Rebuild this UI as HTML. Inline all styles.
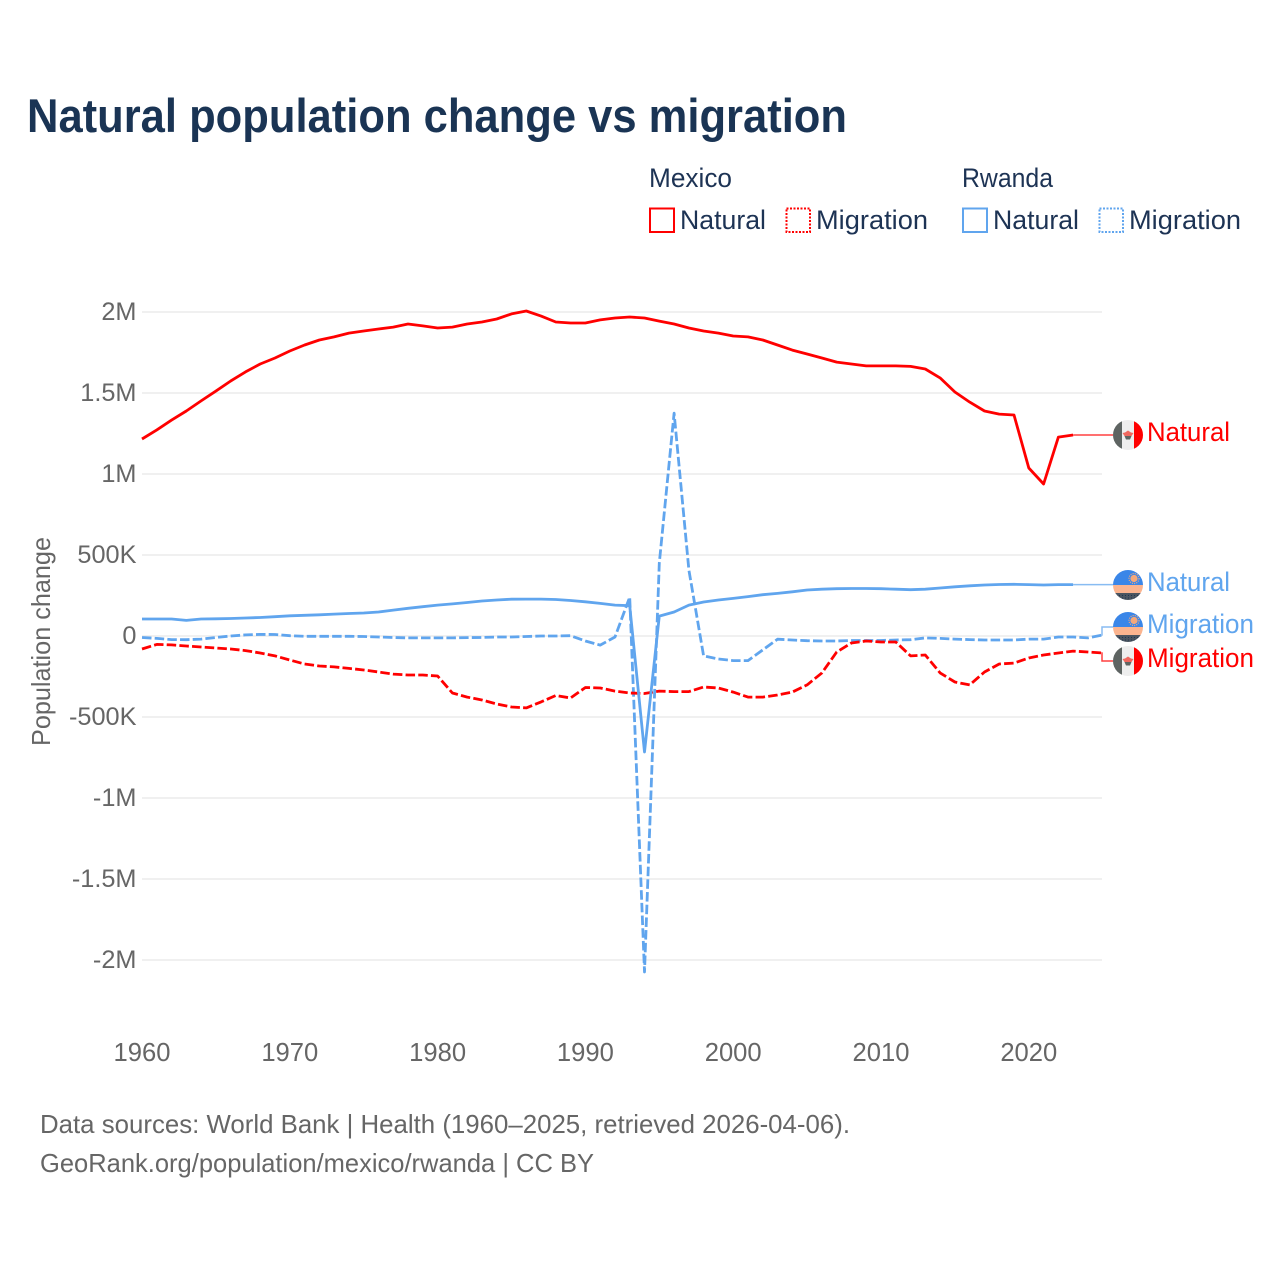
<!DOCTYPE html>
<html lang="en">
<head>
<meta charset="utf-8">
<title>Natural population change vs migration</title>
<style>
html,body{margin:0;padding:0;background:#fff}
svg{display:block}
text{font-family:"Liberation Sans",sans-serif}
</style>
</head>
<body>
<svg id="chart" xmlns="http://www.w3.org/2000/svg" width="1280" height="1280" viewBox="0 0 1280 1280">
  <defs>
    <clipPath id="flag-clip"><circle cx="0" cy="0" r="15"/></clipPath>
    <g id="flag-mexico" clip-path="url(#flag-clip)">
      <rect x="-15" y="-15" width="30" height="30" fill="#eeeeee"/>
      <rect x="-15" y="-15" width="9" height="30" fill="#5e6462"/>
      <rect x="6" y="-15" width="9" height="30" fill="#ff0000"/>
      <path d="M-5.5 -2 L-3 -2.5 L0 -4.500 L3 -2.500 L5.500 -2 L3.500 1 L-3.500 1 Z" fill="#f0685f"/>
      <path d="M-3.500 1 H3.500 L2 4.500 H-2 Z" fill="#5e6462"/>
    </g>
    <g id="flag-rwanda" clip-path="url(#flag-clip)">
      <rect x="-15" y="-15" width="30" height="15" fill="#3a86e8"/>
      <rect x="-15" y="0" width="30" height="8" fill="#fbb48f"/>
      <rect x="-15" y="8" width="30" height="7" fill="#4b5560"/>
      <line x1="-15" x2="15" y1="10.5" y2="10.5" stroke="#1f3550" stroke-width="1" stroke-dasharray="1 2"/>
      <line x1="-15" x2="15" y1="13" y2="13" stroke="#1f3550" stroke-width="1" stroke-dasharray="1 2"/>
      <circle cx="6" cy="-6.5" r="3.6" fill="#f5a87a"/>
      <circle cx="6" cy="-6.5" r="5" fill="none" stroke="#f5a87a" stroke-width="1.2" stroke-dasharray="1 1.2"/>
    </g>
  </defs>

  <rect width="1280" height="1280" fill="#ffffff"/>

  <text x="27" y="132" font-size="47" font-weight="700" fill="#1a3454" textLength="820" lengthAdjust="spacingAndGlyphs">Natural population change vs migration</text>

  <g font-size="26.5" fill="#1d3354">
    <text x="649" y="187" textLength="83" lengthAdjust="spacingAndGlyphs">Mexico</text>
    <text x="962" y="187" textLength="91" lengthAdjust="spacingAndGlyphs">Rwanda</text>

    <rect x="650" y="208.500" width="24" height="23.500" fill="none" stroke="#ff0000" stroke-width="2"/>
    <text x="680" y="229" textLength="86" lengthAdjust="spacingAndGlyphs">Natural</text>
    <rect x="786.500" y="208.500" width="23.500" height="23.500" fill="none" stroke="#ff0000" stroke-width="2" stroke-dasharray="2 1.500"/>
    <text x="816" y="229" textLength="112" lengthAdjust="spacingAndGlyphs">Migration</text>

    <rect x="963" y="208.500" width="24" height="23.500" fill="none" stroke="#60a5ee" stroke-width="2"/>
    <text x="993" y="229" textLength="86" lengthAdjust="spacingAndGlyphs">Natural</text>
    <rect x="1099.500" y="208.500" width="23.500" height="23.500" fill="none" stroke="#60a5ee" stroke-width="2" stroke-dasharray="2 1.500"/>
    <text x="1129" y="229" textLength="112" lengthAdjust="spacingAndGlyphs">Migration</text>
  </g>

  <g id="grid"></g>
  <g id="y-ticks"></g>
  <g id="x-ticks"></g>
  <text transform="translate(50,641.500) rotate(-90)" text-anchor="middle" font-size="25.600" fill="#666666" textLength="209" lengthAdjust="spacingAndGlyphs">Population change</text>

  <g id="leaders"></g>
  <g id="series"></g>

  <g font-size="26.500">
    <use href="#flag-mexico" transform="translate(1128,435)"/>
    <text x="1147" y="441" fill="#ff0000" textLength="83" lengthAdjust="spacingAndGlyphs">Natural</text>
    <use href="#flag-rwanda" transform="translate(1128,585)"/>
    <text x="1147" y="591" fill="#60a5ee" textLength="83" lengthAdjust="spacingAndGlyphs">Natural</text>
    <use href="#flag-rwanda" transform="translate(1128,627)"/>
    <text x="1147" y="633" fill="#60a5ee" textLength="107" lengthAdjust="spacingAndGlyphs">Migration</text>
    <use href="#flag-mexico" transform="translate(1128,661)"/>
    <text x="1147" y="667" fill="#ff0000" textLength="107" lengthAdjust="spacingAndGlyphs">Migration</text>
  </g>

  <g font-size="25.600" fill="#666666">
    <text x="40" y="1133" textLength="810" lengthAdjust="spacingAndGlyphs">Data sources: World Bank | Health (1960–2025, retrieved 2026-04-06).</text>
    <text x="40" y="1172" textLength="554" lengthAdjust="spacingAndGlyphs">GeoRank.org/population/mexico/rwanda | CC BY</text>
  </g>
</svg>

<script>
// Chart data (values in thousands of people per year)
const startYear = 1960;
const yTickValues = [2000, 1500, 1000, 500, 0, -500, -1000, -1500, -2000];
const yTickLabels = ["2M", "1.5M", "1M", "500K", "0", "-500K", "-1M", "-1.5M", "-2M"];
const xTickYears = [1960, 1970, 1980, 1990, 2000, 2010, 2020];
const mexicoNatural = [
  1216,1272,1333,1389,1451,1512,1574,1630,1679,1716,
  1759,1796,1827,1846,1870,1883,1895,1907,1926,1914,
  1901,1907,1926,1938,1957,1988,2006,1975,1938,1932,
  1932,1951,1963,1969,1963,1944,1926,1901,1883,1870,
  1852,1846,1827,1796,1765,1741,1716,1691,1679,1667,
  1667,1667,1664,1648,1593,1506,1444,1389,1370,1364,
  1037,938,1228,1241
];
const mexicoMigration = [
  -80,-52,-55,-62,-68,-74,-80,-90,-105,-123,
  -148,-173,-185,-191,-200,-210,-222,-235,-241,-241,
  -247,-352,-377,-395,-420,-438,-444,-407,-367,-383,
  -318,-321,-340,-352,-355,-340,-343,-343,-315,-321,
  -346,-377,-377,-364,-346,-302,-228,-99,-43,-31,
  -37,-37,-123,-117,-228,-284,-302,-222,-173,-167,
  -136,-117,-105,-93,-99,-105
];
const rwandaNatural = [
  105,105,105,96,105,106,108,111,114,119,
  125,128,131,135,139,142,148,160,171,181,
  191,198,207,216,222,227,228,228,225,219,
  211,201,191,187,-716,123,148,191,210,222,
  232,243,255,263,273,284,289,292,293,293,
  292,289,286,289,296,304,310,315,318,319,
  317,315,317,317
];
const rwandaMigration = [
  -9,-15,-22,-23,-19,-9,0,7,10,9,
  2,-2,-2,-2,-2,-3,-6,-9,-12,-12,
  -12,-12,-10,-9,-6,-6,-3,0,0,2,
  -31,-56,-6,240,-2074,450,1376,407,-123,-142,
  -152,-152,-86,-20,-25,-29,-31,-31,-28,-28,
  -28,-25,-23,-12,-15,-19,-22,-25,-25,-25,
  -19,-19,-6,-6,-12,6
];

const SVG_NS = "http://www.w3.org/2000/svg";
const RED = "#ff0000";
const BLUE = "#60a5ee";
const PLOT_LEFT = 142;
const PLOT_RIGHT = 1102;

function xScale(year) {
  return 142 + (year - 1960) * 14.78;
}
function yScale(value) {
  return 636 - value * 0.162;
}
function make(tag, attrs) {
  const el = document.createElementNS(SVG_NS, tag);
  for (const key in attrs) el.setAttribute(key, attrs[key]);
  return el;
}
function pointsFor(values) {
  return values.map((v, i) => xScale(startYear + i).toFixed(1) + "," + yScale(v).toFixed(1));
}

const gridGroup = document.getElementById("grid");
const yTickGroup = document.getElementById("y-ticks");
yTickValues.forEach((value, i) => {
  const line = make("line", {
    x1: PLOT_LEFT, x2: PLOT_RIGHT, y1: yScale(value), y2: yScale(value),
    stroke: "#ebebeb", "stroke-width": 1.5
  });
  
  
  gridGroup.appendChild(line);

  const label = make("text", {
    x: 136.5, y: yScale(value) + 8, "text-anchor": "end", "font-size": 25.3, fill: "#666666"
  });
  
  
  label.textContent = yTickLabels[i];
  yTickGroup.appendChild(label);
});

const xTickGroup = document.getElementById("x-ticks");
xTickYears.forEach((year) => {
  const label = make("text", {
    x: xScale(year), y: 1061, "text-anchor": "middle", "font-size": 25.6, fill: "#666666"
  });
  
  
  label.textContent = String(year);
  xTickGroup.appendChild(label);
});

const seriesGroup = document.getElementById("series");
function drawSeries(values, color, dashed, name) {
  const attrs = {
    points: pointsFor(values).join(" "),
    fill: "none", stroke: color, "stroke-width": 2.8, "stroke-linejoin": "round"
  };
  if (dashed) attrs["stroke-dasharray"] = "9.5 3.2";
  const line = make("polyline", attrs);
  
  
  seriesGroup.appendChild(line);
}
drawSeries(rwandaMigration, BLUE, true, "series-rwanda-migration");
drawSeries(mexicoMigration, RED, true, "series-mexico-migration");
drawSeries(rwandaNatural, BLUE, false, "series-rwanda-natural");
drawSeries(mexicoNatural, RED, false, "series-mexico-natural");

const leaderGroup = document.getElementById("leaders");
function drawLeader(values, color, targetY, name) {
  const lastX = xScale(startYear + values.length - 1);
  const lastY = yScale(values[values.length - 1]);
  const d = Math.abs(lastY - targetY) < 1
    ? "M" + lastX + " " + lastY + " H1113"
    : "M" + lastX + " " + lastY + " H" + PLOT_RIGHT + " V" + targetY + " H1113";
  const path = make("path", { d: d, fill: "none", stroke: color, "stroke-width": 1.5, opacity: 0.75 });
  
  
  leaderGroup.appendChild(path);
}
drawLeader(mexicoNatural, RED, yScale(mexicoNatural[mexicoNatural.length - 1]), "leader-mexico-natural");
drawLeader(rwandaNatural, BLUE, yScale(rwandaNatural[rwandaNatural.length - 1]), "leader-rwanda-natural");
drawLeader(rwandaMigration, BLUE, 627, "leader-rwanda-migration");
drawLeader(mexicoMigration, RED, 661, "leader-mexico-migration");
</script>
</body>
</html>
